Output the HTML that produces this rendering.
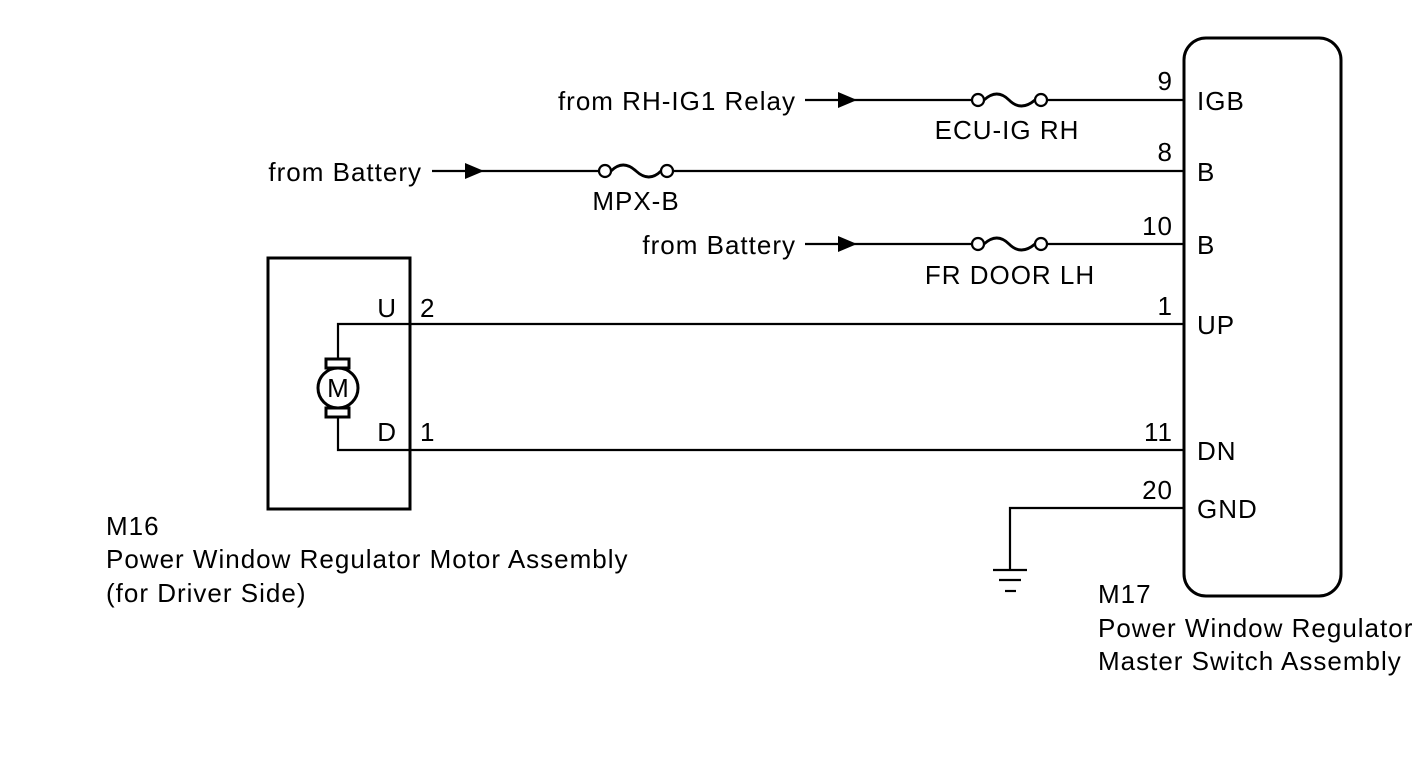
<!DOCTYPE html>
<html><head><style>
html,body{margin:0;padding:0;background:#fff;}
svg{display:block;}
text{font-family:"Liberation Sans",Arial,sans-serif;font-size:26px;letter-spacing:1px;fill:#000;}
</style></head><body>
<svg width="1424" height="759" viewBox="0 0 1424 759" xmlns="http://www.w3.org/2000/svg">
<g stroke="#000" stroke-width="2.2" fill="none">
<line x1="805" y1="100" x2="972" y2="100"/>
<line x1="1047" y1="100" x2="1184" y2="100"/>
<circle cx="978" cy="100" r="6"/><circle cx="1041" cy="100" r="6"/>
<path d="M984 100 Q997 88 1009 100 T1035 100" stroke-width="2.8"/>
<line x1="432" y1="171" x2="599" y2="171"/>
<line x1="673" y1="171" x2="1184" y2="171"/>
<circle cx="605" cy="171" r="6"/><circle cx="667" cy="171" r="6"/>
<path d="M611 171 Q623 159 636 171 T661 171" stroke-width="2.8"/>
<line x1="805" y1="244" x2="972" y2="244"/>
<line x1="1047" y1="244" x2="1184" y2="244"/>
<circle cx="978" cy="244" r="6"/><circle cx="1041" cy="244" r="6"/>
<path d="M984 244 Q997 232 1009 244 T1035 244" stroke-width="2.8"/>
<polyline points="338,358 338,324 1184,324"/>
<polyline points="338,418 338,450 1184,450"/>
<polyline points="1184,508 1010,508 1010,570"/>
<line x1="993" y1="570" x2="1027" y2="570"/>
<line x1="999" y1="580" x2="1021" y2="580"/>
<line x1="1005" y1="591" x2="1016" y2="591"/>
</g>
<g fill="#000">
<polygon points="838,92 857,100 838,108"/>
<polygon points="465,163 484,171 465,179"/>
<polygon points="838,236 857,244 838,252"/>
</g>
<rect x="268" y="258" width="142" height="251" fill="none" stroke="#000" stroke-width="3"/>
<rect x="1184" y="38" width="157" height="558" rx="22" fill="none" stroke="#000" stroke-width="3"/>
<rect x="326" y="359" width="23" height="9" fill="#fff" stroke="#000" stroke-width="3"/>
<rect x="326" y="408" width="23" height="9" fill="#fff" stroke="#000" stroke-width="3"/>
<circle cx="338" cy="388" r="20" fill="#fff" stroke="#000" stroke-width="3"/>
<text x="338" y="397" text-anchor="middle" style="letter-spacing:0">M</text>
<text x="796" y="110" text-anchor="end">from RH-IG1 Relay</text>
<text x="422" y="181" text-anchor="end">from Battery</text>
<text x="796" y="254" text-anchor="end">from Battery</text>
<text x="1007" y="139" text-anchor="middle">ECU-IG RH</text>
<text x="636" y="210" text-anchor="middle">MPX-B</text>
<text x="1010" y="284" text-anchor="middle">FR DOOR LH</text>
<g text-anchor="end">
<text x="1173" y="90">9</text>
<text x="1173" y="161">8</text>
<text x="1173" y="235">10</text>
<text x="1173" y="315">1</text>
<text x="1173" y="441">11</text>
<text x="1173" y="499">20</text>
<text x="397" y="317">U</text>
<text x="397" y="441">D</text>
</g>
<text x="420" y="317">2</text>
<text x="420" y="441">1</text>
<text x="1197" y="110">IGB</text>
<text x="1197" y="181">B</text>
<text x="1197" y="254">B</text>
<text x="1197" y="334">UP</text>
<text x="1197" y="460">DN</text>
<text x="1197" y="518">GND</text>
<text x="106" y="535">M16</text>
<text x="106" y="568">Power Window Regulator Motor Assembly</text>
<text x="106" y="602">(for Driver Side)</text>
<text x="1098" y="603">M17</text>
<text x="1098" y="637">Power Window Regulator</text>
<text x="1098" y="670">Master Switch Assembly</text>
</svg>
</body></html>
